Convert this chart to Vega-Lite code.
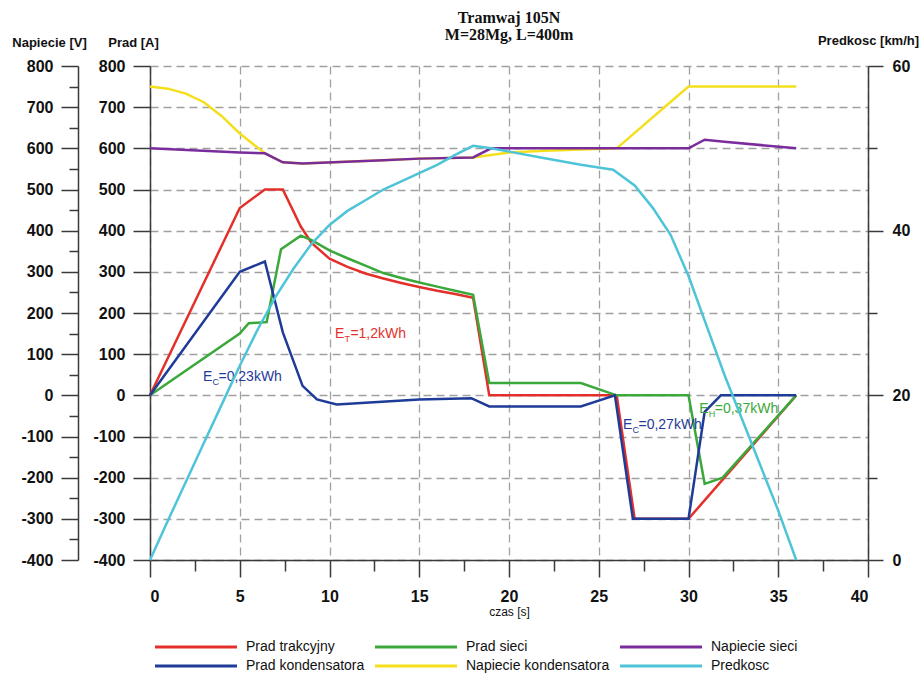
{
  "$schema": "https://vega.github.io/schema/vega-lite/v6.json",
  "width": 718,
  "height": 494,
  "autosize": {"type": "none"},
  "padding": {"left": 150, "top": 66, "right": 52, "bottom": 114},
  "background": "white",
  "title": {
    "text": ["Tramwaj 105N", "M=28Mg, L=400m"],
    "font": "Liberation Serif",
    "fontSize": 16,
    "fontWeight": "bold",
    "lineHeight": 17,
    "color": "#111111",
    "anchor": "middle",
    "frame": "group",
    "offset": -9
  },
  "config": {
    "view": {"stroke": null},
    "axis": {
      "domainColor": "#3a3a3a",
      "domainWidth": 1.5,
      "tickColor": "#3a3a3a",
      "tickWidth": 1.5,
      "labelFont": "Liberation Sans",
      "labelFontSize": 16,
      "labelFontWeight": "bold",
      "labelColor": "#111111",
      "labelOverlap": false,
      "labelBound": false,
      "titleFont": "Liberation Sans",
      "titleFontSize": 13,
      "titleFontWeight": "bold",
      "titleColor": "#111111",
      "gridColor": "#a0a0a0",
      "gridDash": [8, 5],
      "gridWidth": 1.3
    }
  },
  "data": {
    "values": [
      {"s": "Napiecie kondensatora", "t": 0, "v": 750},
      {"s": "Napiecie kondensatora", "t": 1, "v": 745},
      {"s": "Napiecie kondensatora", "t": 2, "v": 733},
      {"s": "Napiecie kondensatora", "t": 3, "v": 712},
      {"s": "Napiecie kondensatora", "t": 4, "v": 678},
      {"s": "Napiecie kondensatora", "t": 5, "v": 636},
      {"s": "Napiecie kondensatora", "t": 6.4, "v": 588},
      {"s": "Napiecie kondensatora", "t": 7.4, "v": 566},
      {"s": "Napiecie kondensatora", "t": 8.5, "v": 563},
      {"s": "Napiecie kondensatora", "t": 13, "v": 571},
      {"s": "Napiecie kondensatora", "t": 15, "v": 575},
      {"s": "Napiecie kondensatora", "t": 18, "v": 578},
      {"s": "Napiecie kondensatora", "t": 20, "v": 590},
      {"s": "Napiecie kondensatora", "t": 22, "v": 594},
      {"s": "Napiecie kondensatora", "t": 24, "v": 597},
      {"s": "Napiecie kondensatora", "t": 26, "v": 600},
      {"s": "Napiecie kondensatora", "t": 30, "v": 750},
      {"s": "Napiecie kondensatora", "t": 36, "v": 750},

      {"s": "Napiecie sieci", "t": 0, "v": 600},
      {"s": "Napiecie sieci", "t": 5, "v": 590},
      {"s": "Napiecie sieci", "t": 6.4, "v": 588},
      {"s": "Napiecie sieci", "t": 7.4, "v": 566},
      {"s": "Napiecie sieci", "t": 8.5, "v": 563},
      {"s": "Napiecie sieci", "t": 13, "v": 571},
      {"s": "Napiecie sieci", "t": 15, "v": 575},
      {"s": "Napiecie sieci", "t": 18, "v": 578},
      {"s": "Napiecie sieci", "t": 19, "v": 600},
      {"s": "Napiecie sieci", "t": 30, "v": 600},
      {"s": "Napiecie sieci", "t": 30.9, "v": 621},
      {"s": "Napiecie sieci", "t": 32, "v": 616},
      {"s": "Napiecie sieci", "t": 36, "v": 600},

      {"s": "Prad trakcyjny", "t": 0, "v": 0},
      {"s": "Prad trakcyjny", "t": 5, "v": 455},
      {"s": "Prad trakcyjny", "t": 6.4, "v": 500},
      {"s": "Prad trakcyjny", "t": 7.4, "v": 500},
      {"s": "Prad trakcyjny", "t": 8.4, "v": 410},
      {"s": "Prad trakcyjny", "t": 9, "v": 370},
      {"s": "Prad trakcyjny", "t": 10, "v": 332},
      {"s": "Prad trakcyjny", "t": 11, "v": 312},
      {"s": "Prad trakcyjny", "t": 12, "v": 296},
      {"s": "Prad trakcyjny", "t": 13, "v": 284},
      {"s": "Prad trakcyjny", "t": 14, "v": 273},
      {"s": "Prad trakcyjny", "t": 15, "v": 263},
      {"s": "Prad trakcyjny", "t": 16, "v": 254},
      {"s": "Prad trakcyjny", "t": 17, "v": 246},
      {"s": "Prad trakcyjny", "t": 18, "v": 237},
      {"s": "Prad trakcyjny", "t": 18.9, "v": 0},
      {"s": "Prad trakcyjny", "t": 26, "v": 0},
      {"s": "Prad trakcyjny", "t": 27, "v": -300},
      {"s": "Prad trakcyjny", "t": 30, "v": -300},
      {"s": "Prad trakcyjny", "t": 32, "v": -200},
      {"s": "Prad trakcyjny", "t": 36, "v": 0},

      {"s": "Prad sieci", "t": 0, "v": 0},
      {"s": "Prad sieci", "t": 5, "v": 150},
      {"s": "Prad sieci", "t": 5.5, "v": 175},
      {"s": "Prad sieci", "t": 6.5, "v": 178},
      {"s": "Prad sieci", "t": 7.3, "v": 355},
      {"s": "Prad sieci", "t": 8.4, "v": 388},
      {"s": "Prad sieci", "t": 9, "v": 377},
      {"s": "Prad sieci", "t": 10, "v": 352},
      {"s": "Prad sieci", "t": 11, "v": 333},
      {"s": "Prad sieci", "t": 12, "v": 315},
      {"s": "Prad sieci", "t": 13, "v": 297},
      {"s": "Prad sieci", "t": 14, "v": 285},
      {"s": "Prad sieci", "t": 15, "v": 274},
      {"s": "Prad sieci", "t": 16, "v": 264},
      {"s": "Prad sieci", "t": 17, "v": 254},
      {"s": "Prad sieci", "t": 18, "v": 244},
      {"s": "Prad sieci", "t": 18.9, "v": 30},
      {"s": "Prad sieci", "t": 24, "v": 30},
      {"s": "Prad sieci", "t": 26, "v": 0},
      {"s": "Prad sieci", "t": 30, "v": 0},
      {"s": "Prad sieci", "t": 30.9, "v": -215},
      {"s": "Prad sieci", "t": 31.9, "v": -200},
      {"s": "Prad sieci", "t": 36, "v": 0},

      {"s": "Prad kondensatora", "t": 0, "v": 0},
      {"s": "Prad kondensatora", "t": 5, "v": 300},
      {"s": "Prad kondensatora", "t": 6.4, "v": 325},
      {"s": "Prad kondensatora", "t": 7.4, "v": 153},
      {"s": "Prad kondensatora", "t": 8.5, "v": 23},
      {"s": "Prad kondensatora", "t": 9.3, "v": -10},
      {"s": "Prad kondensatora", "t": 10.4, "v": -22},
      {"s": "Prad kondensatora", "t": 12, "v": -18},
      {"s": "Prad kondensatora", "t": 15, "v": -10},
      {"s": "Prad kondensatora", "t": 17.9, "v": -7},
      {"s": "Prad kondensatora", "t": 18.9, "v": -27},
      {"s": "Prad kondensatora", "t": 24, "v": -27},
      {"s": "Prad kondensatora", "t": 25.9, "v": 0},
      {"s": "Prad kondensatora", "t": 26.9, "v": -300},
      {"s": "Prad kondensatora", "t": 30, "v": -300},
      {"s": "Prad kondensatora", "t": 30.9, "v": -40},
      {"s": "Prad kondensatora", "t": 31.8, "v": 0},
      {"s": "Prad kondensatora", "t": 36, "v": 0},

      {"s": "Predkosc", "t": 0, "v": 0},
      {"s": "Predkosc", "t": 1, "v": 4.8},
      {"s": "Predkosc", "t": 2, "v": 9.5},
      {"s": "Predkosc", "t": 3, "v": 14.2},
      {"s": "Predkosc", "t": 4, "v": 18.9},
      {"s": "Predkosc", "t": 5, "v": 23.6},
      {"s": "Predkosc", "t": 6, "v": 28},
      {"s": "Predkosc", "t": 7, "v": 32},
      {"s": "Predkosc", "t": 8, "v": 35.4},
      {"s": "Predkosc", "t": 9, "v": 38.4},
      {"s": "Predkosc", "t": 10, "v": 40.7},
      {"s": "Predkosc", "t": 11, "v": 42.4},
      {"s": "Predkosc", "t": 12, "v": 43.7},
      {"s": "Predkosc", "t": 13, "v": 45},
      {"s": "Predkosc", "t": 14, "v": 46},
      {"s": "Predkosc", "t": 15, "v": 47},
      {"s": "Predkosc", "t": 16, "v": 48},
      {"s": "Predkosc", "t": 17, "v": 49.2},
      {"s": "Predkosc", "t": 18, "v": 50.3},
      {"s": "Predkosc", "t": 19, "v": 50},
      {"s": "Predkosc", "t": 20, "v": 49.6},
      {"s": "Predkosc", "t": 22, "v": 48.8},
      {"s": "Predkosc", "t": 24, "v": 48},
      {"s": "Predkosc", "t": 25.8, "v": 47.4},
      {"s": "Predkosc", "t": 27, "v": 45.5},
      {"s": "Predkosc", "t": 28, "v": 42.8},
      {"s": "Predkosc", "t": 29, "v": 39.5},
      {"s": "Predkosc", "t": 30, "v": 34.5},
      {"s": "Predkosc", "t": 31, "v": 28.5},
      {"s": "Predkosc", "t": 32, "v": 22.5},
      {"s": "Predkosc", "t": 33, "v": 17},
      {"s": "Predkosc", "t": 34, "v": 11.5},
      {"s": "Predkosc", "t": 35, "v": 6},
      {"s": "Predkosc", "t": 36, "v": 0}
    ]
  },
  "encoding": {
    "x": {
      "field": "t",
      "type": "quantitative",
      "scale": {"domain": [0, 40], "nice": false, "zero": false},
      "axis": {
        "title": "czas [s]",
        "values": [0, 2.5, 5, 7.5, 10, 12.5, 15, 17.5, 20, 22.5, 25, 27.5, 30, 32.5, 35, 37.5, 40],
        "labelExpr": "datum.value % 5 === 0 ? '' + datum.value : ''",
        "tickSize": {"condition": {"test": "datum.value % 5 === 0", "value": 17}, "value": 11},
        "labelPadding": 11,
        "grid": true,
        "gridOpacity": {"condition": {"test": "datum.value % 5 === 0", "value": 1}, "value": 0},
        "titleFontWeight": "normal",
        "titleFontSize": 12,
        "titleY": 51,
        "titleBaseline": "middle"
      }
    }
  },
  "layer": [
    {
      "transform": [{"filter": "datum.s === 'Napiecie kondensatora' || datum.s === 'Napiecie sieci'"}],
      "mark": {"type": "line", "strokeWidth": 2.5},
      "encoding": {
        "y": {
          "field": "v",
          "type": "quantitative",
          "scale": {"domain": [-400, 800], "nice": false, "zero": false},
          "axis": {
            "orient": "left",
            "offset": 72,
            "title": "Napiecie [V]",
            "titleAngle": 0,
            "titleAlign": "center",
            "titleBaseline": "middle",
            "titleX": -29,
            "titleY": -24,
            "values": [-400, -350, -300, -250, -200, -150, -100, -50, 0, 50, 100, 150, 200, 250, 300, 350, 400, 450, 500, 550, 600, 650, 700, 750, 800],
            "labelExpr": "datum.value % 100 === 0 ? '' + datum.value : ''",
            "tickSize": {"condition": {"test": "datum.value % 100 === 0", "value": 17}, "value": 9},
            "labelPadding": 8,
            "grid": false
          }
        },
        "color": {
          "field": "s",
          "type": "nominal",
          "scale": {
            "domain": ["Prad trakcyjny", "Prad sieci", "Napiecie sieci", "Prad kondensatora", "Napiecie kondensatora", "Predkosc"],
            "range": ["#e3302b", "#3aa83a", "#7b2c9c", "#1f3b98", "#f4df1c", "#4ec4d8"]
          },
          "legend": {
            "title": null,
            "orient": "none",
            "direction": "horizontal",
            "legendX": 5,
            "legendY": 574,
            "columns": 3,
            "columnPadding": 4,
            "rowPadding": 5,
            "padding": 0,
            "symbolType": "M-8,0H8",
            "symbolSize": 105,
            "symbolStrokeWidth": 3,
            "symbolOffset": 34,
            "labelOffset": 43,
            "labelFont": "Liberation Sans",
            "labelFontSize": 14,
            "labelColor": "#111111",
            "labelLimit": 300
          }
        }
      }
    },
    {
      "layer": [
        {
          "transform": [{"filter": "datum.s === 'Prad trakcyjny' || datum.s === 'Prad sieci' || datum.s === 'Prad kondensatora'"}],
          "mark": {"type": "line", "strokeWidth": 2.5},
          "encoding": {
            "y": {
              "field": "v",
              "type": "quantitative",
              "scale": {"domain": [-400, 800], "nice": false, "zero": false},
              "axis": {
                "orient": "left",
                "offset": 0,
                "title": "Prad [A]",
                "titleAngle": 0,
                "titleAlign": "center",
                "titleBaseline": "middle",
                "titleX": -17,
                "titleY": -24,
                "values": [-400, -350, -300, -250, -200, -150, -100, -50, 0, 50, 100, 150, 200, 250, 300, 350, 400, 450, 500, 550, 600, 650, 700, 750, 800],
                "labelExpr": "datum.value % 100 === 0 ? '' + datum.value : ''",
                "tickSize": {"condition": {"test": "datum.value % 100 === 0", "value": 17}, "value": 9},
                "labelPadding": 8,
                "grid": true,
                "gridOpacity": {"condition": {"test": "datum.value % 100 === 0", "value": 1}, "value": 0}
              }
            },
            "color": {
              "field": "s",
              "type": "nominal",
              "scale": {
                "domain": ["Prad trakcyjny", "Prad sieci", "Napiecie sieci", "Prad kondensatora", "Napiecie kondensatora", "Predkosc"],
                "range": ["#e3302b", "#3aa83a", "#7b2c9c", "#1f3b98", "#f4df1c", "#4ec4d8"]
              },
              "legend": {
                "title": null,
                "orient": "none",
                "direction": "horizontal",
                "legendX": 5,
                "legendY": 574,
                "columns": 3,
                "columnPadding": 4,
                "rowPadding": 5,
                "padding": 0,
                "symbolType": "M-8,0H8",
                "symbolSize": 105,
                "symbolStrokeWidth": 3,
                "symbolOffset": 34,
                "labelOffset": 43,
                "labelFont": "Liberation Sans",
                "labelFontSize": 14,
                "labelColor": "#111111",
                "labelLimit": 300
              }
            }
          }
        },
        {
          "data": {"values": [
            {"t": 10.3, "v": 148, "s": "Prad trakcyjny", "sub": "T", "rest": "=1,2kWh"},
            {"t": 2.95, "v": 44, "s": "Prad kondensatora", "sub": "C", "rest": "=0,23kWh"},
            {"t": 26.35, "v": -73, "s": "Prad kondensatora", "sub": "C", "rest": "=0,27kWh"},
            {"t": 30.6, "v": -32, "s": "Prad sieci", "sub": "H", "rest": "=0,37kWh"}
          ]},
          "layer": [
            {"mark": {"type": "text", "align": "left", "baseline": "middle", "font": "Liberation Sans", "fontSize": 14}, "encoding": {"text": {"value": "E"}}},
            {"mark": {"type": "text", "align": "left", "baseline": "middle", "font": "Liberation Sans", "fontSize": 9, "dx": 9.5, "dy": 5}, "encoding": {"text": {"field": "sub"}}},
            {"mark": {"type": "text", "align": "left", "baseline": "middle", "font": "Liberation Sans", "fontSize": 14, "dx": 15.5}, "encoding": {"text": {"field": "rest"}}}
          ],
          "encoding": {
            "y": {"field": "v", "type": "quantitative"},
            "fill": {
              "field": "s",
              "type": "nominal",
              "scale": {
                "domain": ["Prad trakcyjny", "Prad sieci", "Prad kondensatora"],
                "range": ["#e3302b", "#3aa83a", "#1f3b98"]
              },
              "legend": null
            }
          }
        }
      ]
    },
    {
      "transform": [{"filter": "datum.s === 'Predkosc'"}],
      "mark": {"type": "line", "strokeWidth": 2.5},
      "encoding": {
        "y": {
          "field": "v",
          "type": "quantitative",
          "scale": {"domain": [0, 60], "nice": false, "zero": false},
          "axis": {
            "orient": "right",
            "title": "Predkosc [km/h]",
            "titleAngle": 0,
            "titleAlign": "center",
            "titleBaseline": "middle",
            "titleX": 0,
            "titleY": -26,
            "values": [0, 10, 20, 30, 40, 50, 60],
            "labelExpr": "datum.value % 20 === 0 ? '' + datum.value : ''",
            "tickSize": {"condition": {"test": "datum.value % 20 === 0", "value": 15}, "value": 9},
            "labelPadding": 9,
            "grid": false
          }
        },
        "color": {
          "field": "s",
          "type": "nominal",
          "scale": {
            "domain": ["Prad trakcyjny", "Prad sieci", "Napiecie sieci", "Prad kondensatora", "Napiecie kondensatora", "Predkosc"],
            "range": ["#e3302b", "#3aa83a", "#7b2c9c", "#1f3b98", "#f4df1c", "#4ec4d8"]
          },
          "legend": {
            "title": null,
            "orient": "none",
            "direction": "horizontal",
            "legendX": 5,
            "legendY": 574,
            "columns": 3,
            "columnPadding": 4,
            "rowPadding": 5,
            "padding": 0,
            "symbolType": "M-8,0H8",
            "symbolSize": 105,
            "symbolStrokeWidth": 3,
            "symbolOffset": 34,
            "labelOffset": 43,
            "labelFont": "Liberation Sans",
            "labelFontSize": 14,
            "labelColor": "#111111",
            "labelLimit": 300
          }
        }
      }
    }
  ],
  "resolve": {"scale": {"y": "independent"}}
}
